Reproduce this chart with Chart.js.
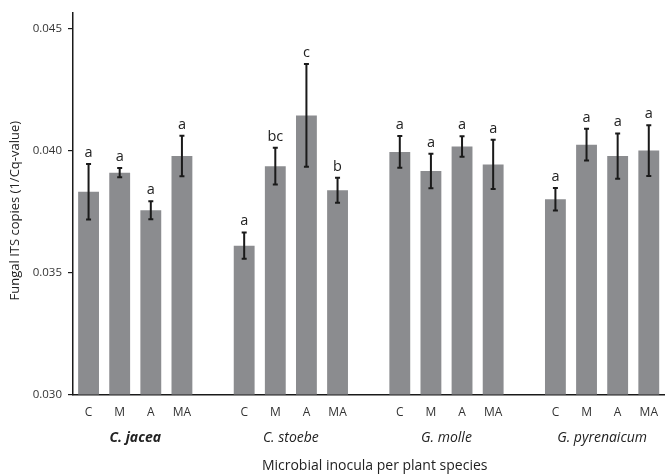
<!DOCTYPE html>
<html>
<head>
<meta charset="utf-8">
<script src="https://cdn.jsdelivr.net/npm/chart.js@4/dist/chart.umd.min.js"></script>
<style>
  html, body { margin: 0; padding: 0; background: #fff; overflow: hidden; }
  #wrap { width: 669px; height: 476px; }
</style>
</head>
<body>
<div id="wrap"><canvas id="chart" width="669" height="476"></canvas></div>
<script>
// Plant species (groups) and inoculum treatments (bars in each group)
const species = ['C. jacea', 'C. stoebe', 'G. molle', 'G. pyrenaicum'];
const treatments = ['C', 'M', 'A', 'MA'];

// Mean fungal ITS copies (1/Cq-value) per treatment
const jaceaMeans      = [0.03831, 0.03909, 0.03755, 0.03977];
const stoebeMeans     = [0.03610, 0.03936, 0.04144, 0.03837];
const molleMeans      = [0.03994, 0.03916, 0.04016, 0.03943];
const pyrenaicumMeans = [0.03800, 0.04024, 0.03977, 0.04000];

// Error bar half lengths
const jaceaErr      = [0.00114, 0.00019, 0.00037, 0.00083];
const stoebeErr     = [0.00054, 0.00075, 0.00211, 0.00051];
const molleErr      = [0.00065, 0.00071, 0.00042, 0.00101];
const pyrenaicumErr = [0.00046, 0.00065, 0.00093, 0.00104];

// Significance letters
const jaceaLetters      = ['a', 'a', 'a', 'a'];
const stoebeLetters     = ['a', 'bc', 'c', 'b'];
const molleLetters      = ['a', 'a', 'a', 'a'];
const pyrenaicumLetters = ['a', 'a', 'a', 'a'];

// Y axis ticks
const yTicks = [0.030, 0.035, 0.040, 0.045];

const yTitle = 'Fungal ITS copies (1/Cq-value)';
const xTitle = 'Microbial inocula per plant species';

// Build flat category list with one empty slot between groups
const groupMeans = [jaceaMeans, stoebeMeans, molleMeans, pyrenaicumMeans];
const groupErr = [jaceaErr, stoebeErr, molleErr, pyrenaicumErr];
const groupLetters = [jaceaLetters, stoebeLetters, molleLetters, pyrenaicumLetters];

const labels = [];
const values = [];
const errors = [];
const letters = [];
const groupSlots = [];
species.forEach((sp, g) => {
    if (g > 0) {
        labels.push('');
        values.push(null);
        errors.push(null);
        letters.push(null);
    }
    const first = labels.length;
    treatments.forEach((t, i) => {
        labels.push(t);
        values.push(groupMeans[g][i]);
        errors.push(groupErr[g][i]);
        letters.push(groupLetters[g][i]);
    });
    groupSlots.push([first, labels.length - 1]);
});

const FONT = "'Open Sans', 'Noto Sans', sans-serif";

// Error bars, letters, group names and axis titles
const annotations = {
    id: 'annotations',
    afterDatasetsDraw(chart) {
        const ctx = chart.ctx;
        const x = chart.scales.x;
        const y = chart.scales.y;
        ctx.save();

        // error bars
        ctx.strokeStyle = '#1a1a1a';
        ctx.lineWidth = 2;
        values.forEach((v, i) => {
            if (v === null) return;
            const px = x.getPixelForValue(i);
            const top = y.getPixelForValue(v + errors[i]);
            const bot = y.getPixelForValue(v - errors[i]);
            ctx.beginPath();
            ctx.moveTo(px, top);
            ctx.lineTo(px, bot);
            ctx.moveTo(px - 2.5, top);
            ctx.lineTo(px + 2.5, top);
            ctx.moveTo(px - 2.5, bot);
            ctx.lineTo(px + 2.5, bot);
            ctx.stroke();
        });

        // letters
        ctx.fillStyle = '#222';
        ctx.font = '14.5px ' + FONT;
        ctx.textAlign = 'center';
        ctx.textBaseline = 'alphabetic';
        values.forEach((v, i) => {
            if (v === null) return;
            const px = x.getPixelForValue(i);
            const top = y.getPixelForValue(v + errors[i]);
            ctx.fillText(letters[i], px, top - 7);
        });
        ctx.restore();
    },
    afterDraw(chart) {
        const ctx = chart.ctx;
        const x = chart.scales.x;
        const area = chart.chartArea;
        ctx.save();
        ctx.fillStyle = '#222';
        ctx.textAlign = 'center';
        ctx.textBaseline = 'middle';

        // species names
        species.forEach((sp, g) => {
            const [a, b] = groupSlots[g];
            const cx = (x.getPixelForValue(a) + x.getPixelForValue(b)) / 2;
            ctx.font = (g === 0 ? 'italic bold 14px ' : 'italic 14px ') + FONT;
            ctx.fillText(sp, cx, area.bottom + 44);
        });

        // x title
        ctx.font = '14px ' + FONT;
        ctx.fillText(xTitle, (area.left + area.right) / 2 + 6, area.bottom + 72);

        // y title
        ctx.font = '13px ' + FONT;
        ctx.translate(15, (area.top + area.bottom) / 2 + 7);
        ctx.rotate(-Math.PI / 2);
        ctx.fillText(yTitle, 0, 0);
        ctx.restore();
    }
};

new Chart(document.getElementById('chart'), {
    type: 'bar',
    data: {
        labels: labels,
        datasets: [{
            data: values,
            backgroundColor: '#8b8c8f',
            borderWidth: 0,
            categoryPercentage: 1,
            barPercentage: 0.67
        }]
    },
    options: {
        responsive: false,
        animation: false,
        layout: { padding: { top: 11, right: 1, left: 0, bottom: 0 } },
        plugins: {
            legend: { display: false },
            tooltip: { enabled: false }
        },
        scales: {
            x: {
                grid: { display: false, drawTicks: false },
                border: { display: true, color: '#1a1a1a', width: 1.5 },
                ticks: {
                    color: '#333',
                    font: { family: FONT, size: 12 },
                    padding: 11,
                    autoSkip: false,
                    maxRotation: 0
                },
                afterFit(scale) { scale.height = 81.5; }
            },
            y: {
                min: 0.030,
                max: 0.04564,
                afterBuildTicks(scale) {
                    scale.ticks = yTicks.map(v => ({ value: v }));
                },
                grid: {
                    display: true,
                    drawOnChartArea: false,
                    drawTicks: true,
                    tickLength: 5,
                    color: '#1a1a1a',
                    lineWidth: 1.2
                },
                border: { display: true, color: '#1a1a1a', width: 1.5 },
                ticks: {
                    color: '#333',
                    font: { family: FONT, size: 11.5 },
                    padding: 6,
                    callback: v => v.toFixed(3)
                },
                afterFit(scale) { scale.width = 73; }
            }
        }
    },
    plugins: [annotations]
});
</script>
</body>
</html>
